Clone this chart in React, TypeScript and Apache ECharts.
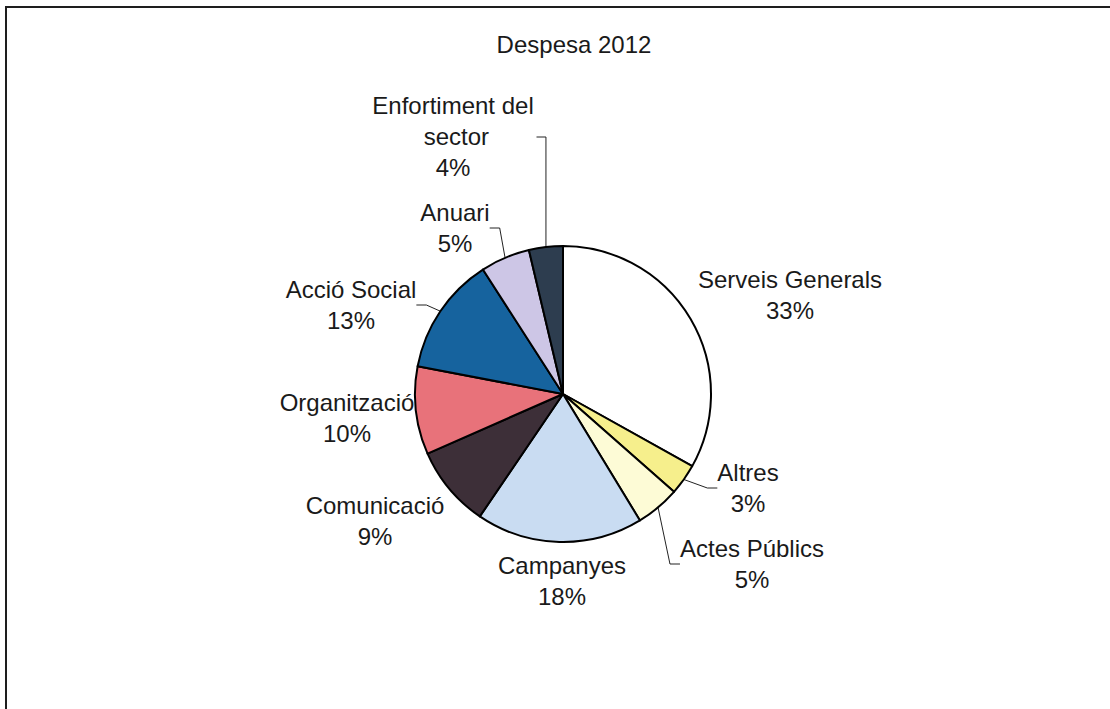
import React, { useEffect, useRef } from "react";
import * as echarts from "echarts";

// ---- Data ----
const TITLE = "Despesa 2012";
const CATEGORIES = [
  "Serveis Generals",
  "Altres",
  "Actes Públics",
  "Campanyes",
  "Comunicació",
  "Organització",
  "Acció Social",
  "Anuari",
  "Enfortiment del sector",
];
const VALUES = [33.1, 3.4, 4.8, 18.2, 8.9, 9.6, 12.9, 5.4, 3.7];

// ---- Styles / layout ----
const COLORS = [
  "#ffffff",
  "#f6ef8c",
  "#fdfbd6",
  "#c9dcf2",
  "#3d2f38",
  "#e8727a",
  "#16639e",
  "#cdc6e6",
  "#2d3d4f",
];
const WITH_LEADER = [false, true, true, false, false, false, true, true, true];
const LABEL_POS: [number, number][] = [
  [790, 295],
  [748, 488],
  [752, 564],
  [562, 581],
  [375, 521],
  [347, 418],
  [351, 305],
  [455, 228],
  [453, 136],
];

export default function App() {
  const ref = useRef<HTMLDivElement>(null);

  useEffect(() => {
    if (!ref.current) return;
    const chart = echarts.init(ref.current, undefined, { renderer: "svg" });
    const font = "'Liberation Sans', Arial, sans-serif";

    const data = CATEGORIES.map((name, i) => {
      const item: any = {
        name,
        value: VALUES[i],
        itemStyle: { color: COLORS[i] },
        labelLine: { show: WITH_LEADER[i] },
      };
      if (name === "Enfortiment del sector") {
        item.label = { width: 165, overflow: "break" };
      }
      return item;
    });

    chart.setOption({
      animation: false,
      backgroundColor: "#ffffff",
      title: {
        text: TITLE,
        left: 569,
        top: 27,
        textAlign: "center",
        textStyle: {
          fontFamily: font,
          fontSize: 24,
          fontWeight: "normal",
          color: "#1a1a1a",
        },
      },
      graphic: [
        {
          type: "rect",
          shape: { x: 6, y: 7, width: 1200, height: 800 },
          style: { fill: "none", stroke: "#1e1e1e", lineWidth: 2 },
          silent: true,
        },
      ],
      series: [
        {
          type: "pie",
          center: [563, 394],
          radius: 148,
          startAngle: 90,
          clockwise: true,
          avoidLabelOverlap: false,
          itemStyle: { borderColor: "#000000", borderWidth: 2 },
          label: {
            show: true,
            position: "outside",
            fontFamily: font,
            fontSize: 24,
            lineHeight: 31,
            color: "#1a1a1a",
            align: "center",
            formatter: (p: any) => `${p.name}\n${Math.round(p.percent)}%`,
          },
          labelLine: {
            show: true,
            length: 10,
            length2: 10,
            lineStyle: { color: "#222222", width: 1 },
          },
          labelLayout: (params: any) => {
            const pos = LABEL_POS[params.dataIndex];
            const out: any = {
              x: pos[0],
              y: pos[1],
              align: "center",
              verticalAlign: "middle",
            };
            if (CATEGORIES[params.dataIndex] === "Enfortiment del sector" && params.rect) {
              // vertical leader from the top of the slice, then a short step left to the label
              const r = params.rect;
              const lx = r.x + r.width / 2;
              const ly = pos[1] + 1;
              const right = pos[0] + params.labelRect.width / 2;
              out.labelLinePoints = [
                [lx, r.y + 2],
                [lx, ly],
                [right + 1, ly],
              ];
            }
            return out;
          },
          emphasis: { disabled: true },
          data,
        },
      ],
    });

    return () => {
      chart.dispose();
    };
  }, []);

  return (
    <div
      ref={ref}
      style={{
        position: "fixed",
        left: 0,
        top: 0,
        width: 1110,
        height: 709,
      }}
    />
  );
}
